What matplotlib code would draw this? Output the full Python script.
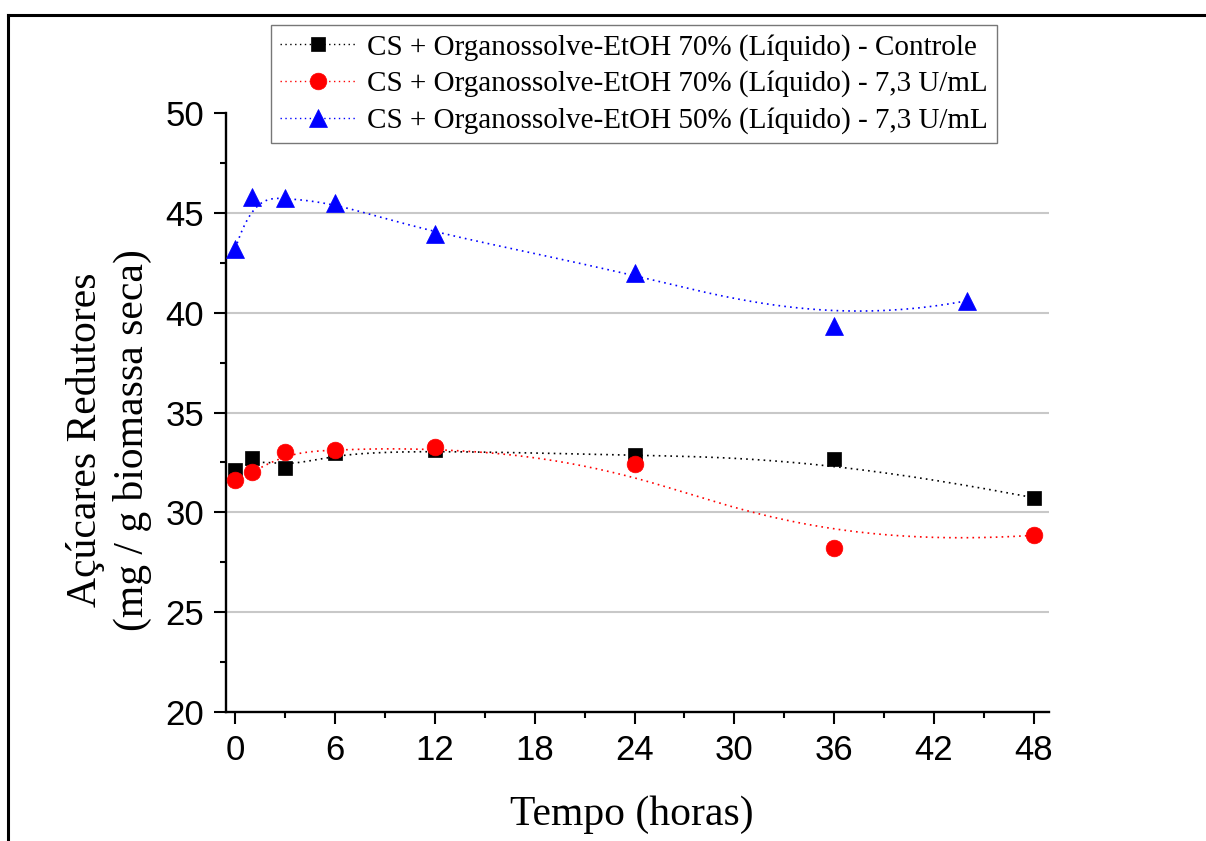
import numpy as np
import matplotlib
matplotlib.use("Agg")
import matplotlib.pyplot as plt
from matplotlib.lines import Line2D
from matplotlib.ticker import MultipleLocator

# tempo de hidrólise (h) e açúcares redutores (mg/g biomassa seca)
tempo_70 = [0, 1, 3, 6, 12, 24, 36, 48]
controle_70 = [32.1, 32.7, 32.2, 32.95, 33.1, 32.85, 32.65, 30.73]
enzima_70 = [31.6, 32.0, 33.0, 33.13, 33.27, 32.4, 28.2, 28.85]

tempo_50 = [0, 1, 3, 6, 12, 24, 36, 44]
enzima_50 = [43.2, 45.8, 45.73, 45.5, 43.93, 42.0, 39.33, 40.6]

rotulos = ["CS + Organossolve-EtOH 70% (Líquido) - Controle",
           "CS + Organossolve-EtOH 70% (Líquido) - 7,3 U/mL",
           "CS + Organossolve-EtOH 50% (Líquido) - 7,3 U/mL"]


def bspline(xs, ys, k=3, num=400):
    # B-spline cúbica com nós uniformes presos nas pontas (pontos = controle)
    xs = np.asarray(xs, float)
    ys = np.asarray(ys, float)
    n = len(xs)
    k = min(k, n - 1)
    t = np.concatenate([np.zeros(k), np.linspace(0, 1, n - k + 1), np.ones(k)])
    u = np.linspace(0, 1, num)
    N = np.array([((t[i] <= u) & (u < t[i + 1])).astype(float)
                  for i in range(len(t) - 1)])
    last = max(i for i in range(len(t) - 1) if t[i] < t[i + 1])
    N[last, -1] = 1.0
    for d in range(1, k + 1):
        novo = np.zeros((len(t) - 1 - d, num))
        for i in range(len(t) - 1 - d):
            a = (u - t[i]) / (t[i + d] - t[i]) if t[i + d] > t[i] else 0.0
            b = ((t[i + d + 1] - u) / (t[i + d + 1] - t[i + 1])
                 if t[i + d + 1] > t[i + 1] else 0.0)
            novo[i] = a * N[i] + b * N[i + 1]
        N = novo
    return N.T @ xs, N.T @ ys


plt.rcParams["font.family"] = ["Liberation Sans", "DejaVu Sans"]
serif = ["Liberation Serif", "DejaVu Serif"]

fig = plt.figure(figsize=(12.06, 8.41), dpi=100)
ax = fig.add_axes([226 / 1206, 1 - 712 / 841, 823 / 1206, 599 / 841])

series = [
    (tempo_70, controle_70, "black", "s", 10),
    (tempo_70, enzima_70, "red", "o", 12),
    (tempo_50, enzima_50, "blue", "^", 13),
]
handles = []
for (x, y, cor, mk, ms), rot in zip(series, rotulos):
    sx, sy = bspline(x, y)
    ax.plot(sx, sy, color=cor, lw=1.2, linestyle=(0, (1, 2.5)), zorder=2)
    ax.plot(x, y, linestyle="none", marker=mk, ms=ms, color=cor,
            mec=cor, mew=0.5, zorder=3)
    handles.append(Line2D([], [], color=cor, lw=1.0, linestyle=(0, (1, 2.5)),
                          marker=mk, ms=ms, mec=cor, mew=0.5, label=rot))

ax.set_xlim(-0.56, 48.92)
ax.set_ylim(20, 50)
ax.xaxis.set_major_locator(MultipleLocator(6))
ax.xaxis.set_minor_locator(MultipleLocator(3))
ax.yaxis.set_major_locator(MultipleLocator(5))
ax.yaxis.set_minor_locator(MultipleLocator(2.5))

for v in [25, 30, 35, 40, 45]:
    ax.axhline(v, color="#c8c8c8", lw=1.5, zorder=1)

for s in ["top", "right"]:
    ax.spines[s].set_visible(False)
for s in ["left", "bottom"]:
    ax.spines[s].set_linewidth(1.7)

ax.tick_params(which="major", direction="out", length=8.6, width=1.5,
               labelsize=25, pad=7)
ax.tick_params(which="minor", direction="out", length=4.3, width=1.5)

ax.legend(handles=handles, loc="upper left", bbox_to_anchor=(0.0547, 1.147),
          borderaxespad=0, prop={"family": serif, "size": 21},
          frameon=True, fancybox=False, edgecolor="#555555",
          handlelength=2.6, handletextpad=0.4, labelspacing=0.34,
          borderpad=0.3)
ax.get_legend().get_frame().set_linewidth(1.0)

fig.text(632 / 1206, 1 - 825 / 841, "Tempo (horas)", fontsize=30,
         family=serif, ha="center", va="baseline")
fig.text(86 / 1206, 1 - 440 / 841, "Açúcares Redutores", fontsize=30,
         family=serif, ha="center", va="center", rotation=90)
fig.text(132 / 1206, 1 - 440 / 841, "(mg / g biomassa seca)", fontsize=30,
         family=serif, ha="center", va="center", rotation=90)

# moldura externa
fig.add_artist(Line2D([8 / 1206, 1.0], [1 - 15 / 841, 1 - 15 / 841],
                      transform=fig.transFigure, color="black", lw=2.2))
fig.add_artist(Line2D([8 / 1206, 8 / 1206], [1 - 15 / 841, 0.0],
                      transform=fig.transFigure, color="black", lw=2.2))

fig.savefig("out.png", dpi=100)
